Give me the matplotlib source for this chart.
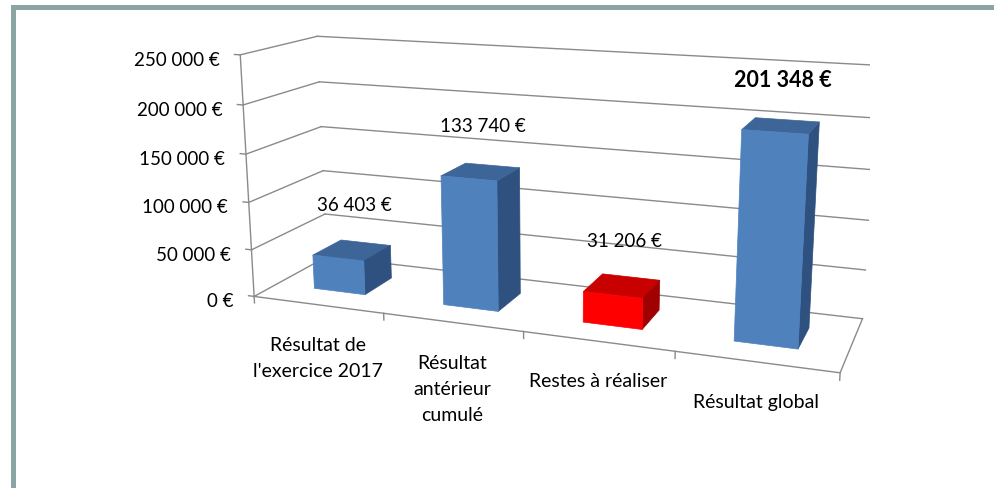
import matplotlib
matplotlib.use('Agg')
import matplotlib.pyplot as plt
from matplotlib.transforms import offset_copy

# Data
categories = ["Résultat de\nl'exercice 2017", "Résultat\nantérieur\ncumulé",
              "Restes à réaliser", "Résultat global"]
values = [36403, 133740, 31206, 201348]
value_labels = ["36 403 €", "133 740 €", "31 206 €", "201 348 €"]
bar_kinds = ['blue', 'blue', 'red', 'blue']
yticks = [0, 50000, 100000, 150000, 200000, 250000]
ytick_labels = ["0 €", "50 000 €", "100 000 €", "150 000 €", "200 000 €", "250 000 €"]

# front / top / right-side colours of each bar kind
face_colours = {
    'blue': ('#4f81bd', '#3d6597', '#2f5180'),
    'red': ('#ff0000', '#c80000', '#a00000'),
}
grid_colour = '#8a8a8a'
font = 'Lato'

fig = plt.figure(figsize=(9.94, 4.89), dpi=100)
fig.patch.set_facecolor('white')

# frame of the slide picture (only top and left edges are visible)
fig.add_artist(plt.Rectangle((13 / 994, -0.1), 1.2, 1.1 - 7.5 / 489, transform=fig.transFigure,
                             fill=False, ec='#8ba4a4', lw=3.6))

# 3D axes, camera fitted on the Excel perspective
ax = fig.add_axes([0.2151, -0.0725, 0.6601, 1.3418], projection='3d', computed_zorder=False)
ax.set_xlim(0, len(categories), view_margin=0)
ax.set_ylim(0, 1, view_margin=0)
ax.set_zlim(0, yticks[-1], view_margin=0)
ax.set_box_aspect((1, 0.2498, 0.4195))
ax.view_init(elev=13.99, azim=-69.66)
ax.set_proj_type('persp', focal_length=0.3703)
ax.set_xticks([])
ax.set_yticks([])
ax.set_zticks([])
for axis in (ax.xaxis, ax.yaxis, ax.zaxis):
    axis.label.set_visible(False)
    axis.offsetText.set_visible(False)
ax.set_axis_off()

ncat = len(categories)

# walls: gridlines on the back wall and on the left wall
for z, label in zip(yticks, ytick_labels):
    ax.plot([0, ncat], [1, 1], [z, z], color=grid_colour, lw=1.0, zorder=1)
    ax.plot([0, 0], [0, 1], [z, z], color=grid_colour, lw=1.0, zorder=1)
    # value tick mark and label
    ax.plot([-0.045, 0], [0, 0], [z, z], color=grid_colour, lw=1.0, zorder=1)
    ax.text(0, 0, z, label, ha='right', va='center',
            fontsize=13.5, family=font, color='black',
            transform=offset_copy(ax.transData, fig=fig, x=-15, y=-3, units='points'))

# value axis line and floor outline
ax.plot([0, 0], [0, 0], [0, yticks[-1]], color=grid_colour, lw=1.0, zorder=1)
ax.plot([0, ncat, ncat], [0, 0, 1], [0, 0, 0], color=grid_colour, lw=1.0, zorder=1)

# category tick marks
for i in range(ncat + 1):
    ax.plot([i, i], [0, 0], [0, -7000], color=grid_colour, lw=1.0, zorder=1)

# bars: width and depth 0.4 (Excel gap width / gap depth 150 %)
bw = 0.4
xs, ys, zs, dxs, dys, dzs, colours = [], [], [], [], [], [], []
hidden = (0, 0, 0, 0)
for i, v in enumerate(values):
    front, top, side = face_colours[bar_kinds[i]]
    xs.append(i + (1 - bw) / 2)
    ys.append((1 - bw) / 2)
    zs.append(0)
    dxs.append(bw)
    dys.append(bw)
    dzs.append(v)
    # faces order: -z, +z, -y, +y, -x, +x
    colours += [hidden, top, front, hidden, hidden, side]
ax.bar3d(xs, ys, zs, dxs, dys, dzs, color=colours, shade=False,
         edgecolor=colours, linewidth=0.5, zorder=2)

# data labels above the bars
for i, v in enumerate(values):
    bold = i == len(values) - 1
    ax.text(i + 0.5, 0.5, v, value_labels[i], ha='center', va='center',
            fontsize=15.5 if bold else 13.5, fontweight='bold' if bold else 'normal',
            family=font, color='black', zorder=3,
            transform=offset_copy(ax.transData, fig=fig, x=1.5, y=33, units='points'))

# category labels under the floor
for i, name in enumerate(categories):
    ax.text(i + 0.5, 0, 0, name, ha='center', va='top', multialignment='center',
            fontsize=14, family=font, color='black', linespacing=1.66, zorder=3,
            transform=offset_copy(ax.transData, fig=fig, y=-22.5, units='points'))

fig.savefig('out.png', dpi=100)
